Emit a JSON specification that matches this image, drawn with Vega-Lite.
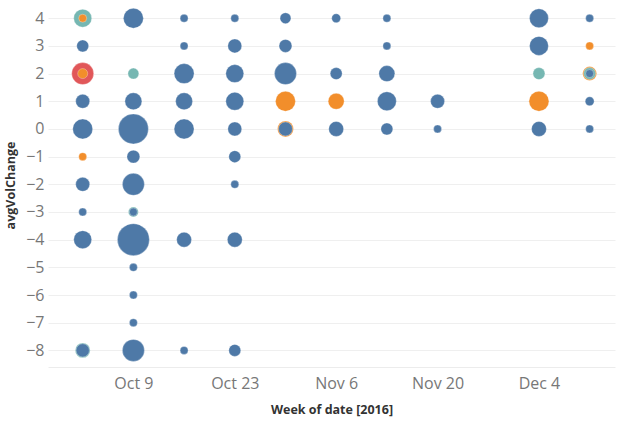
{
  "$schema": "https://vega.github.io/schema/vega-lite/v6.json",
  "width": 567,
  "height": 364,
  "autosize": "none",
  "padding": {"left": 48, "top": 3, "right": 5, "bottom": 56},
  "config": {"view": {"stroke": null}, "font": "Open Sans"},
  "data": {
    "values": [
      {"week": "2016-10-02T00:00:00", "avgVolChange": 4, "group": "D", "records": 81},
      {"week": "2016-10-02T00:00:00", "avgVolChange": 4, "group": "B", "records": 16},
      {"week": "2016-10-02T00:00:00", "avgVolChange": 3, "group": "A", "records": 36},
      {"week": "2016-10-02T00:00:00", "avgVolChange": 2, "group": "C", "records": 121},
      {"week": "2016-10-02T00:00:00", "avgVolChange": 2, "group": "B", "records": 25},
      {"week": "2016-10-02T00:00:00", "avgVolChange": 1, "group": "A", "records": 49},
      {"week": "2016-10-02T00:00:00", "avgVolChange": 0, "group": "A", "records": 100},
      {"week": "2016-10-02T00:00:00", "avgVolChange": -1, "group": "B", "records": 16},
      {"week": "2016-10-02T00:00:00", "avgVolChange": -2, "group": "A", "records": 49},
      {"week": "2016-10-02T00:00:00", "avgVolChange": -3, "group": "A", "records": 16},
      {"week": "2016-10-02T00:00:00", "avgVolChange": -4, "group": "A", "records": 81},
      {"week": "2016-10-02T00:00:00", "avgVolChange": -8, "group": "D", "records": 56},
      {"week": "2016-10-02T00:00:00", "avgVolChange": -8, "group": "A", "records": 44},

      {"week": "2016-10-09T00:00:00", "avgVolChange": 4, "group": "A", "records": 100},
      {"week": "2016-10-09T00:00:00", "avgVolChange": 2, "group": "D", "records": 30},
      {"week": "2016-10-09T00:00:00", "avgVolChange": 1, "group": "A", "records": 72},
      {"week": "2016-10-09T00:00:00", "avgVolChange": 0, "group": "A", "records": 225},
      {"week": "2016-10-09T00:00:00", "avgVolChange": -1, "group": "A", "records": 42},
      {"week": "2016-10-09T00:00:00", "avgVolChange": -2, "group": "A", "records": 121},
      {"week": "2016-10-09T00:00:00", "avgVolChange": -3, "group": "D", "records": 25},
      {"week": "2016-10-09T00:00:00", "avgVolChange": -3, "group": "A", "records": 16},
      {"week": "2016-10-09T00:00:00", "avgVolChange": -4, "group": "A", "records": 256},
      {"week": "2016-10-09T00:00:00", "avgVolChange": -5, "group": "A", "records": 16},
      {"week": "2016-10-09T00:00:00", "avgVolChange": -6, "group": "A", "records": 16},
      {"week": "2016-10-09T00:00:00", "avgVolChange": -7, "group": "A", "records": 16},
      {"week": "2016-10-09T00:00:00", "avgVolChange": -8, "group": "A", "records": 121},

      {"week": "2016-10-16T00:00:00", "avgVolChange": 4, "group": "A", "records": 16},
      {"week": "2016-10-16T00:00:00", "avgVolChange": 3, "group": "A", "records": 16},
      {"week": "2016-10-16T00:00:00", "avgVolChange": 2, "group": "A", "records": 100},
      {"week": "2016-10-16T00:00:00", "avgVolChange": 1, "group": "A", "records": 72},
      {"week": "2016-10-16T00:00:00", "avgVolChange": 0, "group": "A", "records": 100},
      {"week": "2016-10-16T00:00:00", "avgVolChange": -4, "group": "A", "records": 56},
      {"week": "2016-10-16T00:00:00", "avgVolChange": -8, "group": "A", "records": 16},

      {"week": "2016-10-23T00:00:00", "avgVolChange": 4, "group": "A", "records": 16},
      {"week": "2016-10-23T00:00:00", "avgVolChange": 3, "group": "A", "records": 49},
      {"week": "2016-10-23T00:00:00", "avgVolChange": 2, "group": "A", "records": 81},
      {"week": "2016-10-23T00:00:00", "avgVolChange": 1, "group": "A", "records": 81},
      {"week": "2016-10-23T00:00:00", "avgVolChange": 0, "group": "A", "records": 49},
      {"week": "2016-10-23T00:00:00", "avgVolChange": -1, "group": "A", "records": 36},
      {"week": "2016-10-23T00:00:00", "avgVolChange": -2, "group": "A", "records": 16},
      {"week": "2016-10-23T00:00:00", "avgVolChange": -4, "group": "A", "records": 56},
      {"week": "2016-10-23T00:00:00", "avgVolChange": -8, "group": "A", "records": 36},

      {"week": "2016-10-30T00:00:00", "avgVolChange": 4, "group": "A", "records": 30},
      {"week": "2016-10-30T00:00:00", "avgVolChange": 3, "group": "A", "records": 42},
      {"week": "2016-10-30T00:00:00", "avgVolChange": 2, "group": "A", "records": 121},
      {"week": "2016-10-30T00:00:00", "avgVolChange": 1, "group": "B", "records": 100},
      {"week": "2016-10-30T00:00:00", "avgVolChange": 0, "group": "B", "records": 64},
      {"week": "2016-10-30T00:00:00", "avgVolChange": 0, "group": "A", "records": 49},

      {"week": "2016-11-06T00:00:00", "avgVolChange": 4, "group": "A", "records": 20},
      {"week": "2016-11-06T00:00:00", "avgVolChange": 2, "group": "A", "records": 36},
      {"week": "2016-11-06T00:00:00", "avgVolChange": 1, "group": "B", "records": 64},
      {"week": "2016-11-06T00:00:00", "avgVolChange": 0, "group": "A", "records": 56},

      {"week": "2016-11-13T00:00:00", "avgVolChange": 4, "group": "A", "records": 16},
      {"week": "2016-11-13T00:00:00", "avgVolChange": 3, "group": "A", "records": 16},
      {"week": "2016-11-13T00:00:00", "avgVolChange": 2, "group": "A", "records": 64},
      {"week": "2016-11-13T00:00:00", "avgVolChange": 1, "group": "A", "records": 90},
      {"week": "2016-11-13T00:00:00", "avgVolChange": 0, "group": "A", "records": 36},

      {"week": "2016-11-20T00:00:00", "avgVolChange": 1, "group": "A", "records": 49},
      {"week": "2016-11-20T00:00:00", "avgVolChange": 0, "group": "A", "records": 16},

      {"week": "2016-12-04T00:00:00", "avgVolChange": 4, "group": "A", "records": 90},
      {"week": "2016-12-04T00:00:00", "avgVolChange": 3, "group": "A", "records": 90},
      {"week": "2016-12-04T00:00:00", "avgVolChange": 2, "group": "D", "records": 36},
      {"week": "2016-12-04T00:00:00", "avgVolChange": 1, "group": "B", "records": 100},
      {"week": "2016-12-04T00:00:00", "avgVolChange": 0, "group": "A", "records": 56},

      {"week": "2016-12-11T00:00:00", "avgVolChange": 4, "group": "A", "records": 16},
      {"week": "2016-12-11T00:00:00", "avgVolChange": 3, "group": "B", "records": 16},
      {"week": "2016-12-11T00:00:00", "avgVolChange": 2, "group": "B", "records": 49},
      {"week": "2016-12-11T00:00:00", "avgVolChange": 2, "group": "D", "records": 36},
      {"week": "2016-12-11T00:00:00", "avgVolChange": 2, "group": "A", "records": 16},
      {"week": "2016-12-11T00:00:00", "avgVolChange": 1, "group": "A", "records": 20},
      {"week": "2016-12-11T00:00:00", "avgVolChange": 0, "group": "A", "records": 16}
    ]
  },
  "mark": {"type": "circle", "opacity": 1, "stroke": "white", "strokeWidth": 0.6, "strokeOpacity": 0.5},
  "encoding": {
    "x": {
      "field": "week",
      "type": "temporal",
      "scale": {
        "domain": [
          {"year": 2016, "month": 9, "date": 27, "hours": 5},
          {"year": 2016, "month": 12, "date": 14, "hours": 12}
        ]
      },
      "axis": {
        "values": [
          {"year": 2016, "month": 10, "date": 9},
          {"year": 2016, "month": 10, "date": 23},
          {"year": 2016, "month": 11, "date": 6},
          {"year": 2016, "month": 11, "date": 20},
          {"year": 2016, "month": 12, "date": 4}
        ],
        "format": "%b %-d",
        "title": "Week of date [2016]",
        "grid": false,
        "ticks": false,
        "domain": true,
        "domainColor": "#ececec",
        "labelFontSize": 16,
        "labelColor": "#777777",
        "labelPadding": 8,
        "titleFontSize": 12.5,
        "titleFontWeight": "bold",
        "titleColor": "#333333",
        "titlePadding": 12
      }
    },
    "y": {
      "field": "avgVolChange",
      "type": "quantitative",
      "scale": {"domain": [-8.6, 4.55], "nice": false, "zero": false},
      "axis": {
        "values": [-8, -7, -6, -5, -4, -3, -2, -1, 0, 1, 2, 3, 4],
        "title": "avgVolChange",
        "grid": true,
        "gridColor": "#efefef",
        "ticks": false,
        "domain": false,
        "labelFontSize": 16,
        "labelColor": "#777777",
        "labelPadding": 4,
        "titleFontSize": 12.5,
        "titleFontWeight": "bold",
        "titleColor": "#333333",
        "titlePadding": 8
      }
    },
    "color": {
      "field": "group",
      "type": "nominal",
      "scale": {"domain": ["A", "B", "C", "D"], "range": ["#4e79a7", "#f28e2b", "#e15759", "#76b7b2"]},
      "legend": null
    },
    "size": {
      "field": "records",
      "type": "quantitative",
      "scale": {"type": "linear", "domain": [0, 256], "range": [0, 1024]},
      "legend": null
    },
    "order": {"field": "records", "sort": "descending"}
  }
}
